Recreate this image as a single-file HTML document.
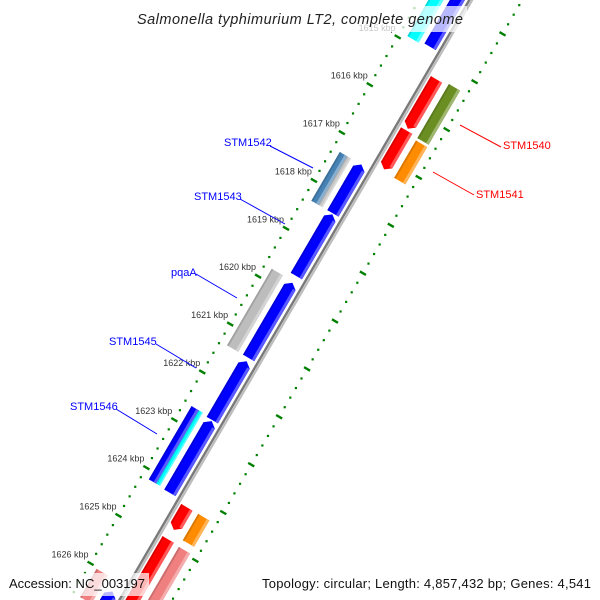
<!DOCTYPE html>
<html><head><meta charset="utf-8"><style>
html,body{margin:0;padding:0;background:#fff;overflow:hidden;width:600px;height:600px;}
svg{display:block;font-family:"Liberation Sans",sans-serif;overflow:hidden;}
</style></head><body>
<svg id="map" width="600" height="600" viewBox="0 0 600 600" xmlns="http://www.w3.org/2000/svg">
<g id="ticks"></g>
<g id="backbone"></g>
<g id="features"></g>
<g id="labels">
  <line x1="270" y1="146" x2="313" y2="168" stroke="#0000ff" stroke-width="1"/>
  <text x="224" y="146" font-size="11" fill="#0000ff">STM1542</text>
  <line x1="240" y1="199" x2="285" y2="224" stroke="#0000ff" stroke-width="1"/>
  <text x="194" y="200" font-size="11" fill="#0000ff">STM1543</text>
  <line x1="196" y1="274" x2="237" y2="298" stroke="#0000ff" stroke-width="1"/>
  <text x="171" y="276" font-size="11" fill="#0000ff">pqaA</text>
  <line x1="156" y1="344" x2="196" y2="368" stroke="#0000ff" stroke-width="1"/>
  <text x="109" y="345" font-size="11" fill="#0000ff">STM1545</text>
  <line x1="116" y1="409" x2="157" y2="434" stroke="#0000ff" stroke-width="1"/>
  <text x="70" y="410" font-size="11" fill="#0000ff">STM1546</text>
  <line x1="501" y1="147" x2="460" y2="125" stroke="#ff0000" stroke-width="1"/>
  <text x="503" y="149" font-size="11" fill="#ff0000">STM1540</text>
  <line x1="474" y1="195" x2="433" y2="172" stroke="#ff0000" stroke-width="1"/>
  <text x="476" y="198" font-size="11" fill="#ff0000">STM1541</text>
</g>
<g>
  <rect x="133" y="6" width="334" height="26" fill="#fff" fill-opacity="0.72"/>
  <text x="300" y="24" font-size="14.5" font-style="italic" text-anchor="middle" textLength="326" fill="#222">Salmonella typhimurium LT2, complete genome</text>
</g>
<g>
  <rect x="5" y="573" width="144" height="23" fill="#fff" fill-opacity="0.72"/>
  <text x="9" y="588" font-size="13" textLength="136" fill="#111">Accession: NC_003197</text>
  <rect x="258" y="573" width="338" height="23" fill="#fff" fill-opacity="0.72"/>
  <text x="262" y="588" font-size="13" textLength="329" fill="#111">Topology: circular; Length: 4,857,432 bp; Genes: 4,541</text>
</g>
</svg>
<script>
// ---- data ----
var tickKb = [1613,1614,1615,1616,1617,1618,1619,1620,1621,1622,1623,1624,1625,1626];
var tickLabels = ["1613 kbp","1614 kbp","1615 kbp","1616 kbp","1617 kbp","1618 kbp","1619 kbp","1620 kbp","1621 kbp","1622 kbp","1623 kbp","1624 kbp","1625 kbp","1626 kbp"];
var featStart = [1613.0,1613.0,1615.31,1616.38,1615.27,1616.45,1617.32,1617.32,1617.32,1618.36,1619.79,1619.76,1621.43,1622.68,1622.63,1622.63,1624.25,1624.25,1624.92,1624.94,1626.03,1626.24,1626.68,1626.68];
var featEnd   = [1614.86,1614.9,1616.34,1617.19,1616.40,1617.23,1618.34,1618.34,1618.34,1619.65,1621.36,1621.36,1622.66,1624.18,1624.16,1624.16,1624.72,1624.80,1628.0,1628.0,1626.62,1628.0,1628.0,1628.0];
var featSlot  = ["i1","i2","o1","o1","o2","o2","i1","i2a","i2b","i1","i1","i2","i1","i1","i2a","i2b","o1","o2","o1","o2","i2","i1","i2a","i2b"];
var featColor = ["#0000ff","#00ffff","#ff0000","#ff0000","#6b8e23","#ff8c00","#0000ff","#4682b4","#c8c8c8","#0000ff","#0000ff","#bdbdbd","#0000ff","#0000ff","#0000ff","#00ffff","#ff0000","#ff8c00","#ff0000","#f08080","#f08080","#0000ff","#f08080","#f0e68c"];
var featArrow = [-1,0,1,1,0,0,-1,0,0,-1,-1,0,-1,-1,0,0,1,0,1,0,0,-1,0,0];

// ---- geometry ----
var NS="http://www.w3.org/2000/svg";
var DX=-0.504, DY=0.864, NX=0.864, NY=0.504, T0=406.5;
function sOf(kb){ return -2.3 + 55.4*(kb-1618); }
function P(s,r){ var t=T0+r; return [DX*s+NX*t, DY*s+NY*t]; }
var slots = {i1:[-18,-5], i2:[-36.5,-23.5], i2a:[-36.5,-28], i2b:[-28,-23.5], o1:[4,17], o2:[23.5,36.5]};
function poly(pts,fill,name,g){
  var p=document.createElementNS(NS,"polygon");
  p.setAttribute("points",pts.map(function(q){return q[0].toFixed(2)+","+q[1].toFixed(2);}).join(" "));
  p.setAttribute("fill",fill);
  
  
  g.appendChild(p); return p;
}
function mix(hex,w,amt){
  var n=parseInt(hex.slice(1),16), r=n>>16, g=(n>>8)&255, b=n&255, c=w?255:0;
  r=Math.round(r+(c-r)*amt); g=Math.round(g+(c-g)*amt); b=Math.round(b+(c-b)*amt);
  return "rgb("+r+","+g+","+b+")";
}

// ---- ticks ----
var tg=document.getElementById("ticks");
for (var kb10=16120; kb10<=16290; kb10+=2){
  var kb=kb10/10, major=(kb10%10===0), s=sOf(kb);
  [-44.5,44.5].forEach(function(r){
    var el;
    if(major){
      var a=P(s,r-3.5), b=P(s,r+3.5);
      el=document.createElementNS(NS,"line");
      el.setAttribute("x1",a[0]);el.setAttribute("y1",a[1]);el.setAttribute("x2",b[0]);el.setAttribute("y2",b[1]);
      el.setAttribute("stroke","#008000");el.setAttribute("stroke-width","2.4");
      
    } else {
      var c=P(s,r);
      el=document.createElementNS(NS,"rect");
      el.setAttribute("x",c[0]-1.1);el.setAttribute("y",c[1]-1.1);el.setAttribute("width","2.2");el.setAttribute("height","2.2");
      el.setAttribute("fill","#008000");
      
    }
    
    tg.appendChild(el);
  });
}
tickKb.forEach(function(kb,i){
  var c=P(sOf(kb),-44.5);
  var t=document.createElementNS(NS,"text");
  t.setAttribute("x",c[0]-2);t.setAttribute("y",c[1]-6);
  t.setAttribute("font-size","9");t.setAttribute("text-anchor","end");t.setAttribute("fill","#333");
  t.textContent=tickLabels[i];
  
  
  tg.appendChild(t);
});

// ---- backbone ----
var bg=document.getElementById("backbone");
[[ -1.2,"#7a7a7a",2.4],[1.3,"#bdbdbd",2.2]].forEach(function(o){
  var a=P(sOf(1612),o[0]), b=P(sOf(1629),o[0]);
  var l=document.createElementNS(NS,"line");
  l.setAttribute("x1",a[0]);l.setAttribute("y1",a[1]);l.setAttribute("x2",b[0]);l.setAttribute("y2",b[1]);
  l.setAttribute("stroke",o[1]);l.setAttribute("stroke-width",o[2]);
  
  
  bg.appendChild(l);
});

// ---- features ----
var fg=document.getElementById("features");
for (var i=0;i<featStart.length;i++){
  var s0=sOf(featStart[i]), s1=sOf(featEnd[i]), rr=slots[featSlot[i]], r0=rr[0], r1=rr[1], rm=(r0+r1)/2;
  var col=featColor[i], h=5, pts;
  if(featArrow[i]===1) pts=[P(s0,r0),P(s1-h,r0),P(s1,rm),P(s1-h,r1),P(s0,r1)];
  else if(featArrow[i]===-1) pts=[P(s0,rm),P(s0+h,r0),P(s1,r0),P(s1,r1),P(s0+h,r1)];
  else pts=[P(s0,r0),P(s1,r0),P(s1,r1),P(s0,r1)];
  var g=document.createElementNS(NS,"g");
  
  
  fg.appendChild(g);
  poly(pts,col,"feature-body",g);
  var a0=featArrow[i]===-1?s0+h:s0, a1=featArrow[i]===1?s1-h:s1;
  var band=(r1-r0)>8?3:1.5;
  poly([P(a0,r1-band),P(a1,r1-band),P(a1,r1),P(a0,r1)],mix(col,true,0.35),"feature-highlight",g);
  poly([P(a0,r0),P(a1,r0),P(a1,r0+band*0.6),P(a0,r0+band*0.6)],mix(col,false,0.15),"feature-shade",g);
}
</script>
</body></html>
